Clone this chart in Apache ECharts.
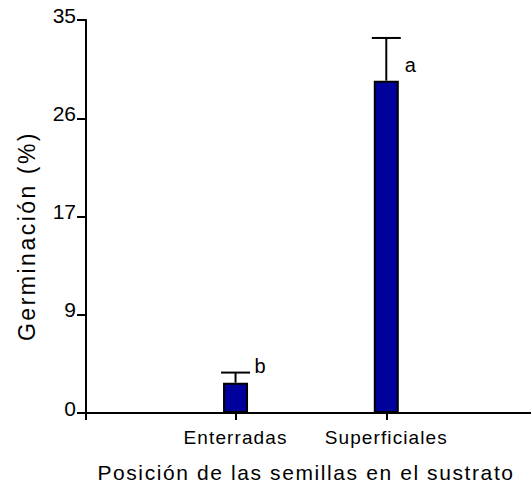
<!DOCTYPE html>
<html>
<head>
<meta charset="utf-8">
<script src="https://cdn.jsdelivr.net/npm/echarts@6/dist/echarts.min.js"></script>
<style>
html,body{margin:0;padding:0;background:#fff;}
#chart{width:531px;height:484px;}
</style>
</head>
<body>
<div id="chart"></div>
<script>
// ---- data ----
var categories = ['Enterradas', 'Superficiales'];
var categoryPos = [1, 2];
var means = [2.7, 29.6];
var errors = [0.9, 3.8];
var letters = ['b', 'a'];
var yTickValues = [0, 8.75, 17.5, 26.25, 35];
var yTickLabels = ['0', '9', '17', '26', '35'];
var xTitle = 'Posición de las semillas en el sustrato';
var yTitle = 'Germinación (%)';

// ---- styles ----
var FONT = '"Liberation Sans", Arial, sans-serif';
var letterOffsets = [[24.5, -7], [24, 27]];
var X_MIN = 0.008, X_MAX = 2.96;

var chart = echarts.init(document.getElementById('chart'), null, { renderer: 'svg' });

var barData = categoryPos.map(function (x, i) { return [x, means[i]]; });
var errData = categoryPos.map(function (x, i) { return [x, means[i], means[i] + errors[i]]; });

var option = {
  backgroundColor: '#ffffff',
  animation: false,
  grid: { left: 86, right: 0, top: 20, bottom: 71, containLabel: false },
  xAxis: {
    type: 'value',
    min: X_MIN, max: X_MAX,
    axisLine: { show: true, lineStyle: { color: '#000', width: 2 } },
    axisTick: { show: true, length: 7, customValues: [X_MIN].concat(categoryPos), lineStyle: { color: '#000', width: 2 } },
    splitLine: { show: false },
    axisLabel: {
      margin: 15,
      color: '#000',
      fontFamily: FONT,
      fontSize: 19,
      customValues: categoryPos,
      formatter: function (v) {
        for (var i = 0; i < categoryPos.length; i++) {
          if (Math.abs(categoryPos[i] - v) < 1e-6) return categories[i];
        }
        return '';
      }
    }
  },
  yAxis: {
    type: 'value',
    min: 0, max: 35, interval: 8.75,
    axisLine: { show: true, onZero: false, lineStyle: { color: '#000', width: 2 } },
    axisTick: { show: true, length: 9, lineStyle: { color: '#000', width: 2 } },
    splitLine: { show: false },
    axisLabel: {
      margin: 10,
      color: '#000',
      fontFamily: FONT,
      fontSize: 21,
      verticalAlign: 'bottom',
      lineHeight: 10,
      formatter: function (v) {
        for (var i = 0; i < yTickValues.length; i++) {
          if (Math.abs(yTickValues[i] - v) < 1e-6) return yTickLabels[i];
        }
        return '';
      }
    }
  },
  graphic: [
    {
      type: 'text', x: 306, y: 472,
      style: { text: xTitle, font: '21px ' + FONT, fill: '#000', textAlign: 'center', textVerticalAlign: 'middle' }
    },
    {
      type: 'text', x: 27, y: 236, rotation: Math.PI / 2,
      style: { text: yTitle, font: '23px ' + FONT, fill: '#000', textAlign: 'center', textVerticalAlign: 'middle' }
    }
  ],
  series: [
    {
      type: 'bar',
      data: barData,
      barWidth: 25,
      itemStyle: { color: '#00009c', borderColor: '#000', borderWidth: 2 },
      z: 2
    },
    {
      type: 'custom',
      data: errData,
      z: 3,
      renderItem: function (params, api) {
        var x = api.value(0);
        var p0 = api.coord([x, api.value(1)]);
        var p1 = api.coord([x, api.value(2)]);
        var half = 14.5;
        var off = letterOffsets[params.dataIndex];
        return {
          type: 'group',
          children: [
            { type: 'line', shape: { x1: p0[0], y1: p0[1], x2: p1[0], y2: p1[1] }, style: { stroke: '#000', lineWidth: 2 } },
            { type: 'line', shape: { x1: p1[0] - half, y1: p1[1], x2: p1[0] + half, y2: p1[1] }, style: { stroke: '#000', lineWidth: 2 } },
            { type: 'text', x: p1[0] + off[0], y: p1[1] + off[1],
              style: { text: letters[params.dataIndex], font: '20px ' + FONT, fill: '#000', textAlign: 'center', textVerticalAlign: 'middle' } }
          ]
        };
      }
    }
  ]
};
chart.setOption(option);

// letter spacing of the original typesetting (style only)
var spacingByText = {};
spacingByText[xTitle] = 1.6;
spacingByText[yTitle] = 2.5;
categories.forEach(function (c) { spacingByText[c] = 1.1; });
function applySpacing() {
  var texts = document.querySelectorAll('#chart svg text');
  texts.forEach(function (t) {
    var s = spacingByText[t.textContent];
    if (s) { t.setAttribute('letter-spacing', s + 'px'); }
  });
}
applySpacing();
chart.on('finished', applySpacing);
</script>
</body>
</html>
